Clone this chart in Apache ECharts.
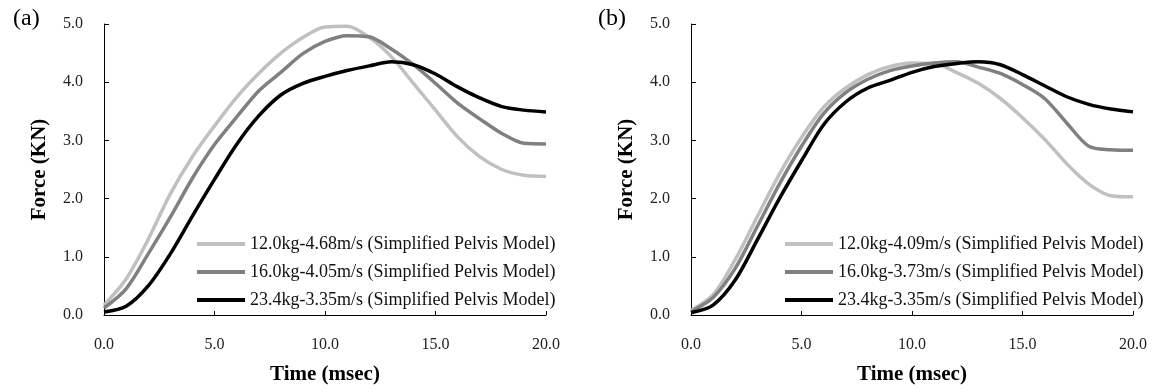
<!DOCTYPE html>
<html>
<head>
<meta charset="utf-8">
<script src="https://cdn.jsdelivr.net/npm/echarts@6/dist/echarts.min.js"></script>
<style>
  html, body { margin: 0; padding: 0; background: #fff; }
  #main { width: 1152px; height: 390px; }
</style>
</head>
<body>
<div id="main"></div>
<script>
// time axis, msec
var times = [0, 1, 2, 3, 4, 5, 6, 7, 8, 9, 10, 11, 12, 13, 14, 15, 16, 17, 18, 19, 20];

// (a) forces in KN
var a12 = [0.17, 0.62, 1.30, 2.08, 2.72, 3.25, 3.74, 4.15, 4.50, 4.77, 4.95, 4.96, 4.77, 4.44, 3.98, 3.52, 3.06, 2.72, 2.50, 2.40, 2.38];
var a16 = [0.12, 0.45, 1.05, 1.68, 2.35, 2.93, 3.40, 3.85, 4.17, 4.49, 4.70, 4.80, 4.78, 4.57, 4.30, 3.98, 3.64, 3.37, 3.12, 2.95, 2.94];
var a23 = [0.05, 0.15, 0.50, 1.05, 1.70, 2.33, 2.93, 3.42, 3.78, 3.98, 4.10, 4.20, 4.28, 4.35, 4.30, 4.14, 3.92, 3.73, 3.58, 3.52, 3.49];

// (b) forces in KN
var b12 = [0.08, 0.35, 0.95, 1.69, 2.42, 3.05, 3.57, 3.90, 4.13, 4.27, 4.33, 4.32, 4.17, 3.98, 3.72, 3.39, 3.02, 2.60, 2.25, 2.05, 2.03];
var b16 = [0.06, 0.30, 0.80, 1.52, 2.25, 2.90, 3.46, 3.82, 4.05, 4.20, 4.28, 4.33, 4.35, 4.26, 4.15, 3.96, 3.72, 3.30, 2.90, 2.84, 2.83];
var b23 = [0.04, 0.17, 0.60, 1.29, 2.00, 2.65, 3.27, 3.66, 3.90, 4.03, 4.17, 4.27, 4.32, 4.35, 4.30, 4.13, 3.94, 3.75, 3.62, 3.54, 3.49];

var namesA = ['12.0kg-4.68m/s (Simplified Pelvis Model)', '16.0kg-4.05m/s (Simplified Pelvis Model)', '23.4kg-3.35m/s (Simplified Pelvis Model)'];
var namesB = ['12.0kg-4.09m/s (Simplified Pelvis Model)', '16.0kg-3.73m/s (Simplified Pelvis Model)', '23.4kg-3.35m/s (Simplified Pelvis Model)'];
var colors = ['#c0c0c0', '#808080', '#000000'];

var FONT = 'Liberation Serif';

function pairs(vals) {
  return times.map(function (t, i) { return [t, vals[i]]; });
}

function xAxis(idx) {
  return {
    gridIndex: idx,
    type: 'value',
    min: 0, max: 20, interval: 5,
    name: 'Time (msec)',
    nameLocation: 'middle',
    nameGap: 49,
    nameTextStyle: { fontFamily: FONT, fontSize: 21, fontWeight: 'bold', color: '#000' },
    axisLine: { lineStyle: { color: '#000', width: 1 } },
    axisTick: { show: true, inside: true, length: 4, lineStyle: { color: '#000' } },
    axisLabel: { fontFamily: FONT, fontSize: 16, color: '#222', margin: 22,
      formatter: function (v) { return v.toFixed(1); } },
    splitLine: { show: false }
  };
}

function yAxis(idx) {
  return {
    gridIndex: idx,
    type: 'value',
    min: 0, max: 5, interval: 1,
    name: 'Force (KN)',
    nameLocation: 'middle',
    nameGap: 54,
    nameTextStyle: { fontFamily: FONT, fontSize: 21, fontWeight: 'bold', color: '#000' },
    axisLine: { show: true, lineStyle: { color: '#000', width: 1 } },
    axisTick: { show: true, inside: true, length: 5, lineStyle: { color: '#000' } },
    axisLabel: { fontFamily: FONT, fontSize: 16, color: '#222', margin: 21,
      formatter: function (v) { return v.toFixed(1); } },
    splitLine: { show: false }
  };
}

function line(name, vals, color, idx) {
  return {
    name: name,
    type: 'line',
    xAxisIndex: idx, yAxisIndex: idx,
    data: pairs(vals),
    smooth: 0.3,
    symbol: 'none',
    color: color,
    lineStyle: { color: color, width: 3.5 }
  };
}

function legend(names, left) {
  return {
    orient: 'vertical',
    left: left, top: 230,
    icon: 'rect',
    itemWidth: 48, itemHeight: 4, itemGap: 10,
    data: names,
    selectedMode: false,
    textStyle: { fontFamily: FONT, fontSize: 18, color: '#111', lineHeight: 18 }
  };
}

var chart = echarts.init(document.getElementById('main'), null, { renderer: 'canvas' });

chart.setOption({
  animation: false,
  backgroundColor: '#fff',
  title: [
    { text: '(a)', left: 8, top: 2, textStyle: { fontFamily: FONT, fontSize: 24, fontWeight: 'normal', color: '#000' } },
    { text: '(b)', left: 593, top: 2, textStyle: { fontFamily: FONT, fontSize: 24, fontWeight: 'normal', color: '#000' } }
  ],
  legend: [legend(namesA, 192), legend(namesB, 780)],
  grid: [
    { left: 104, top: 24, width: 442, height: 291 },
    { left: 691, top: 24, width: 442, height: 291 }
  ],
  xAxis: [xAxis(0), xAxis(1)],
  yAxis: [yAxis(0), yAxis(1)],
  series: [
    line(namesA[0], a12, colors[0], 0),
    line(namesA[1], a16, colors[1], 0),
    line(namesA[2], a23, colors[2], 0),
    line(namesB[0], b12, colors[0], 1),
    line(namesB[1], b16, colors[1], 1),
    line(namesB[2], b23, colors[2], 1)
  ]
});
</script>
</body>
</html>
